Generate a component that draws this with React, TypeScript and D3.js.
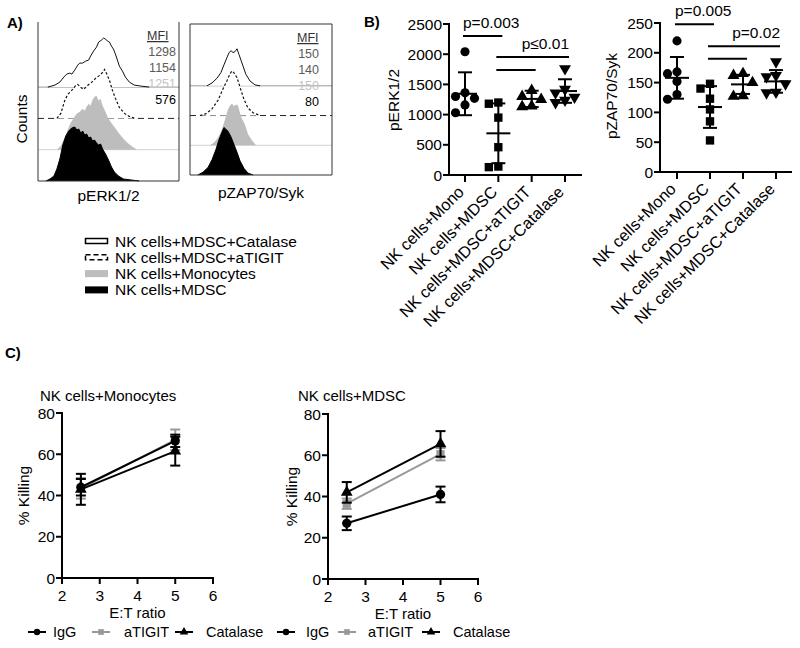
import React from "react";
import * as d3 from "d3";

const FONT = "'Liberation Sans', Arial, Helvetica, sans-serif";

// ---------------- Panel A: histogram overlays ----------------
// [channel (0-100), counts]
const perkCatalase: number[][] = [[7,0],[12,4],[15.5,10],[18.3,20],[20.4,26],[22.5,28],[24,26],[26,34],[28.2,44],[29.6,48],[31.7,48],[33.8,52],[35.9,54],[37.3,62],[39.4,72],[41.5,80],[43,90],[45,94],[46.5,98],[47.9,96],[49.3,92],[50.7,90],[52.1,82],[53.5,76],[54.9,66],[56.3,54],[57.7,42],[59.9,32],[62,20],[64.8,10],[68.3,4],[73,2],[79,0]];
const perkATIGIT: number[][] = [[13.4,0],[16.2,10],[19,36],[21.1,48],[23.9,56],[26.8,66],[28.2,68],[30.3,62],[32.4,58],[35.2,66],[38,72],[40.8,80],[43.7,86],[45.8,92],[47.2,98],[48.6,90],[50.7,76],[52.8,56],[54.9,40],[57.7,22],[61.3,10],[64.8,4],[69,0]];
const perkMono: number[][] = [[13.4,0],[16.2,8],[19,24],[21.1,40],[23.2,54],[25.4,64],[27.5,72],[29.6,76],[31.7,82],[33.1,78],[34.5,86],[35.9,92],[37.3,88],[38.7,100],[40.1,106],[41.5,108],[43,98],[44.4,102],[45.8,88],[47.2,80],[49.3,66],[51.4,56],[53.5,48],[55.6,40],[57.7,32],[60.6,22],[63.4,14],[66.9,6],[70.4,0]];
const perkMDSC: number[][] = [[5.6,0],[8.5,4],[11.3,10],[13.4,24],[15.5,44],[17.6,72],[19.7,90],[21.8,100],[23.9,106],[26.1,108],[27.5,102],[28.9,104],[30.3,96],[31.7,100],[33.1,92],[34.5,94],[35.9,86],[37.3,88],[38.7,80],[40.1,82],[41.5,76],[43,72],[44.4,74],[45.8,64],[47.9,54],[50,42],[52.1,28],[54.2,18],[57,10],[60.6,4],[66.2,2],[71.8,0]];

const zapCatalase: number[][] = [[12,0],[15.5,6],[19,16],[21.8,28],[23.9,44],[26.1,60],[27.5,70],[28.9,74],[30.3,70],[31.7,72],[33.1,78],[34.5,66],[35.9,54],[37.3,42],[39.4,24],[42.3,10],[45.8,2],[49.3,0]];
const zapATIGIT: number[][] = [[7,0],[11.3,4],[15.5,14],[19.7,32],[23.2,56],[26.1,74],[28.2,88],[29.6,94],[31,90],[33.1,80],[35.2,60],[38,34],[40.8,16],[44.4,6],[49.3,0]];
const zapMono: number[][] = [[14.1,0],[16.9,6],[19.7,16],[22.5,34],[24.6,54],[26.8,76],[28.2,84],[29.6,88],[31,82],[32.4,86],[33.8,84],[35.2,68],[36.6,56],[38.7,44],[40.8,24],[43.7,10],[46.5,0]];
const zapMDSC: number[][] = [[5.6,0],[9.2,6],[12.7,16],[15.5,32],[18.3,54],[20.4,74],[22.5,90],[23.9,100],[25.4,96],[26.8,92],[28.9,80],[31,64],[33.1,48],[35.2,30],[38,14],[40.8,4],[44.4,0]];

const layerNames = ["NK cells+MDSC+Catalase", "NK cells+MDSC+aTIGIT", "NK cells+Monocytes", "NK cells+MDSC"];
const perkMFI = ["1298", "1154", "1251", "576"];
const zapMFI = ["150", "140", "150", "80"];

// ---------------- Panel B: scatter ----------------
const bCategories = ["NK cells+Mono", "NK cells+MDSC", "NK cells+MDSC+aTIGIT", "NK cells+MDSC+Catalase"];
const perkValues = [
  [2040, 1360, 1300, 1270, 1160, 1030],
  [1200, 1180, 950, 460, 140, 130],
  [1400, 1300, 1250, 1140, 1130],
  [1760, 1420, 1360, 1290, 1240, 1200],
];
const perkMeans = [1345, 690, 1260, 1390];
const perkSDs = [355, 495, 135, 195];
const zapValues = [
  [220, 168, 165, 152, 130, 122],
  [148, 140, 123, 105, 85, 53],
  [165, 162, 150, 128, 127],
  [185, 162, 160, 148, 134, 133],
];
const zapMeans = [158, 109, 147, 152];
const zapSDs = [35, 35, 16, 19];
const perkSig = [
  { a: 0, b: 1, y: 2300, label: "p=0.003", anchor: "start" },
  { a: 1, b: 3, y: 1955, label: "p≤0.01", anchor: "end" },
  { a: 1, b: 2, y: 1740, label: "", anchor: "start" },
];
const zapSig = [
  { a: 0, b: 1, y: 248, label: "p=0.005", anchor: "start" },
  { a: 1, b: 3, y: 211, label: "p=0.02", anchor: "end" },
  { a: 1, b: 2, y: 190, label: "", anchor: "start" },
];

// ---------------- Panel C: killing ----------------
const etRatios = [2.5, 5];
const cSeriesNames = ["IgG", "aTIGIT", "Catalase"];
const monoIgG = [44, 66.5];
const monoIgGErr = [4, 3];
const monoATIGIT = [43.5, 67];
const monoATIGITErr = [5, 5];
const monoCatalase = [43, 61.5];
const monoCatalaseErr = [7.5, 7];
const mdscIgG = [27, 41];
const mdscIgGErr = [3.3, 3.8];
const mdscATIGIT = [36.5, 60.5];
const mdscATIGITErr = [2.5, 3];
const mdscCatalase = [42, 65.5];
const mdscCatalaseErr = [5, 6.2];
const cXTicks = [2, 3, 4, 5, 6];
const cYTicks = [0, 20, 40, 60, 80];

const shapeOf: Record<string, d3.SymbolType> = {
  circle: d3.symbolCircle,
  square: d3.symbolSquare,
  triangle: d3.symbolTriangle,
  down: d3.symbolTriangle,
};
function Marker({ x, y, shape, size, fill }: any) {
  const p = d3.symbol().type(shapeOf[shape]).size(size)();
  const rot = shape === "down" ? " rotate(180)" : "";
  return <path d={p || ""} transform={`translate(${x},${y})${rot}`} fill={fill} />;
}

function HistBox({ x0, x1, y0, y1, layers, mfi, mfiX, valX, label, fullBox }: any) {
  const x = d3.scaleLinear().domain([0, 100]).range([x0, x1]);
  const y = d3.scaleLinear().domain([0, 318]).range([y1, y0]);
  const offset = 62.6;
  const styles = [
    { fill: "#fff", stroke: "#111", dash: undefined, base: "#9a9a9a", baseDash: undefined, sw: 1 },
    { fill: "#fff", stroke: "#111", dash: "2.5,2", base: "#222", baseDash: "6,4", sw: 1.2 },
    { fill: "#bdbdbd", stroke: "none", dash: undefined, base: "#d2d2d2", baseDash: undefined, sw: 0 },
    { fill: "#000", stroke: "#000", dash: undefined, base: "#000", baseDash: undefined, sw: 1 },
  ];
  const mfiColors = ["#5a5a5a", "#5a5a5a", "#c4c4c4", "#000"];
  return (
    <g>
      {layers.map((data: number[][], i: number) => {
        const off = offset * (3 - i);
        const st = styles[i];
        const area = d3.area<number[]>().x((d) => x(d[0])).y0(y(off)).y1((d) => y(off + d[1]));
        const line = d3.line<number[]>().x((d) => x(d[0])).y((d) => y(off + d[1]));
        return (
          <g key={i}>
            {i < 3 && (
              <line x1={x0} x2={x1} y1={y(off)} y2={y(off)} stroke={st.base} strokeWidth={1} strokeDasharray={st.baseDash} />
            )}
            <path d={area(data) || ""} fill={st.fill} />
            {st.sw > 0 && <path d={line(data) || ""} fill="none" stroke={st.stroke} strokeWidth={st.sw} strokeDasharray={st.dash} />}
          </g>
        );
      })}
      <line x1={x0} x2={x0} y1={y0} y2={y1} stroke="#333" strokeWidth={1} />
      <line x1={x0} x2={x1} y1={y1} y2={y1} stroke="#333" strokeWidth={1} />
      <line x1={x1} x2={x1} y1={y0} y2={y1} stroke="#333" strokeWidth={1} />
      {fullBox && <line x1={x0} x2={x1} y1={y0} y2={y0} stroke="#333" strokeWidth={1} />}
      <text x={mfiX} y={y0 + 18} fontSize={12.5} fill="#333" fontFamily={FONT} textDecoration="underline">MFI</text>
      {mfi.map((m: string, i: number) => (
        <text key={i} x={valX} y={y0 + 34 + i * 16} fontSize={12.5} textAnchor="end" fill={mfiColors[i]} fontFamily={FONT}>{m}</text>
      ))}
      <text x={(x0 + x1) / 2} y={label.y} fontSize={15.5} textAnchor="middle" fontFamily={FONT}>{label.text}</text>
    </g>
  );
}

function dodge(vals: number[], ys: (v: number) => number, step: number) {
  const placed: { x: number; y: number }[] = [];
  const order = [0, -1, 1, -2, 2, -3, 3];
  return vals.map((v) => {
    const py = ys(v);
    for (const o of order) {
      const px = o * step;
      if (placed.every((p) => Math.hypot(p.x - px, p.y - py) >= step)) {
        placed.push({ x: px, y: py });
        return { x: px, y: py };
      }
    }
    placed.push({ x: 0, y: py });
    return { x: 0, y: py };
  });
}

function ScatterPanel({ axisX, xEnd, yBottom, yTop, yMax, yStep, xRange, values, means, sds, sigs, ylabel, ylabelX, ylabelY }: any) {
  const y = d3.scaleLinear().domain([0, yMax]).range([yBottom, yTop]);
  const x = d3.scalePoint<string>().domain(bCategories).range(xRange);
  const ticks = d3.range(0, yMax + 1, yStep);
  const shapes = ["circle", "square", "triangle", "down"];
  return (
    <g fontFamily={FONT}>
      <line x1={axisX} x2={axisX} y1={yTop - 1} y2={yBottom + 1} stroke="#000" strokeWidth={2} />
      <line x1={axisX} x2={xEnd} y1={yBottom} y2={yBottom} stroke="#000" strokeWidth={2} />
      {ticks.map((t: number) => (
        <g key={t}>
          <line x1={axisX - 6} x2={axisX} y1={y(t)} y2={y(t)} stroke="#000" strokeWidth={2} />
          <text x={axisX - 7} y={y(t) + 5.5} fontSize={15.5} textAnchor="end">{t}</text>
        </g>
      ))}
      <text transform={`translate(${ylabelX},${ylabelY}) rotate(-90)`} fontSize={15.5} textAnchor="middle">{ylabel}</text>
      {bCategories.map((c, i) => {
        const cx = x(c) as number;
        const pts = dodge(values[i], y, 9.5);
        return (
          <g key={c}>
            <line x1={cx} x2={cx} y1={yBottom} y2={yBottom + 7} stroke="#000" strokeWidth={2} />
            <text transform={`translate(${cx},${yBottom + 18}) rotate(-45)`} fontSize={16.3} textAnchor="end">{c}</text>
            {pts.map((p, j) => (
              <Marker key={j} x={cx + p.x} y={p.y} shape={shapes[i]} size={i === 0 ? 66 : i === 1 ? 70 : 62} fill="#000" />
            ))}
            <line x1={cx} x2={cx} y1={y(means[i] + sds[i])} y2={y(Math.max(0, means[i] - sds[i]))} stroke="#000" strokeWidth={2} />
            <line x1={cx - 7} x2={cx + 7} y1={y(means[i] + sds[i])} y2={y(means[i] + sds[i])} stroke="#000" strokeWidth={2} />
            <line x1={cx - 7} x2={cx + 7} y1={y(means[i] - sds[i])} y2={y(means[i] - sds[i])} stroke="#000" strokeWidth={2} />
            <line x1={cx - 12} x2={cx + 12} y1={y(means[i])} y2={y(means[i])} stroke="#000" strokeWidth={2} />
          </g>
        );
      })}
      {sigs.map((s: any, i: number) => {
        const xa = (x(bCategories[s.a]) as number) - 2;
        const xb = (x(bCategories[s.b]) as number) + 4;
        return (
          <g key={i}>
            <line x1={xa} x2={xb} y1={y(s.y)} y2={y(s.y)} stroke="#000" strokeWidth={2} />
            {s.label && (
              <text x={s.anchor === "start" ? xa : xb} y={y(s.y) - 8} fontSize={15.5} textAnchor={s.anchor}>{s.label}</text>
            )}
          </g>
        );
      })}
    </g>
  );
}

function KillPanel({ x0, x1, y0, y1, title, titleX, series, ylabelX }: any) {
  const x = d3.scaleLinear().domain([2, 6]).range([x0, x1]);
  const y = d3.scaleLinear().domain([0, 80]).range([y1, y0]);
  const line = d3.line<number>().x((_, i) => x(etRatios[i])).y((d) => y(d));
  return (
    <g fontFamily={FONT}>
      <text x={titleX} y={401} fontSize={15} >{title}</text>
      <line x1={x0} x2={x0} y1={y0 - 1} y2={y1 + 1} stroke="#000" strokeWidth={2} />
      <line x1={x0} x2={x1 + 1} y1={y1} y2={y1} stroke="#000" strokeWidth={2} />
      {cYTicks.map((t) => (
        <g key={t}>
          <line x1={x0 - 6} x2={x0} y1={y(t)} y2={y(t)} stroke="#000" strokeWidth={2} />
          <text x={x0 - 7} y={y(t) + 5.5} fontSize={15.5} textAnchor="end">{t}</text>
        </g>
      ))}
      {cXTicks.map((t) => (
        <g key={t}>
          <line x1={x(t)} x2={x(t)} y1={y1} y2={y1 + 6} stroke="#000" strokeWidth={2} />
          <text x={x(t)} y={y1 + 23} fontSize={15.5} textAnchor="middle">{t}</text>
        </g>
      ))}
      <text x={(x0 + x1) / 2} y={y1 + 40} fontSize={15} textAnchor="middle">E:T ratio</text>
      <text transform={`translate(${ylabelX},${(y0 + y1) / 2}) rotate(-90)`} fontSize={15.5} textAnchor="middle">% Killing</text>
      {series.map((s: any, k: number) => (
        <g key={k}>
          <path d={line(s.values) || ""} fill="none" stroke={s.color} strokeWidth={2} />
          {s.values.map((v: number, i: number) => {
            const cx = x(etRatios[i]);
            return (
              <g key={i}>
                <line x1={cx} x2={cx} y1={y(v + s.err[i])} y2={y(v - s.err[i])} stroke={s.color} strokeWidth={2} />
                <line x1={cx - 5} x2={cx + 5} y1={y(v + s.err[i])} y2={y(v + s.err[i])} stroke={s.color} strokeWidth={2} />
                <line x1={cx - 5} x2={cx + 5} y1={y(v - s.err[i])} y2={y(v - s.err[i])} stroke={s.color} strokeWidth={2} />
                <Marker x={cx} y={y(v)} shape={s.shape} size={s.shape === "triangle" ? 60 : 68} fill={s.color} />
              </g>
            );
          })}
        </g>
      ))}
    </g>
  );
}

function CLegend({ starts, textOffsets }: any) {
  const colors = ["#000", "#999", "#000"];
  const shapes = ["circle", "square", "triangle"];
  return (
    <g fontFamily={FONT}>
      {cSeriesNames.map((n, i) => (
        <g key={n}>
          <line x1={starts[i]} x2={starts[i] + 18} y1={632} y2={632} stroke={colors[i]} strokeWidth={2} />
          <Marker x={starts[i] + 9} y={632} shape={shapes[i]} size={32} fill={colors[i]} />
          <text x={starts[i] + textOffsets[i]} y={637} fontSize={14.5}>{n}</text>
        </g>
      ))}
    </g>
  );
}

export default function App() {
  const monoSeries = [
    { values: monoATIGIT, err: monoATIGITErr, color: "#999", shape: "square" },
    { values: monoIgG, err: monoIgGErr, color: "#000", shape: "circle" },
    { values: monoCatalase, err: monoCatalaseErr, color: "#000", shape: "triangle" },
  ];
  const mdscSeries = [
    { values: mdscATIGIT, err: mdscATIGITErr, color: "#999", shape: "square" },
    { values: mdscIgG, err: mdscIgGErr, color: "#000", shape: "circle" },
    { values: mdscCatalase, err: mdscCatalaseErr, color: "#000", shape: "triangle" },
  ];
  return (
    <svg width={800} height={648} style={{ position: "absolute", left: 0, top: 0, background: "#fff" }} fontFamily={FONT}>
      <rect width={800} height={648} fill="#fff" />
      {/* Panel A */}
      <text x={7} y={28} fontSize={15} fontWeight="bold">A)</text>
      <text transform="translate(27,119) rotate(-90)" fontSize={15.5} textAnchor="middle">Counts</text>
      <HistBox x0={38} x1={179} y0={22} y1={181} layers={[perkCatalase, perkATIGIT, perkMono, perkMDSC]}
        mfi={perkMFI} mfiX={147} valX={176} label={{ text: "pERK1/2", y: 201 }} fullBox={false} />
      <HistBox x0={190} x1={332} y0={24} y1={175} layers={[zapCatalase, zapATIGIT, zapMono, zapMDSC]}
        mfi={zapMFI} mfiX={297} valX={319} label={{ text: "pZAP70/Syk", y: 198 }} fullBox={true} />
      {/* Legend A */}
      {layerNames.map((n, i) => {
        const cy = 241 + i * 16.3;
        return (
          <g key={n}>
            {i === 0 && <rect x={85.5} y={cy - 2.5} width={22} height={5} fill="#fff" stroke="#000" strokeWidth={1.5} />}
            {i === 1 && <rect x={85.5} y={cy - 2.5} width={22} height={5} fill="#fff" stroke="#000" strokeWidth={1.5} strokeDasharray="5,3" />}
            {i === 2 && <rect x={85} y={cy - 3.5} width={23} height={7} fill="#bdbdbd" />}
            {i === 3 && <rect x={85} y={cy - 3.5} width={23} height={7} fill="#000" />}
            <text x={115} y={cy + 5.5} fontSize={15.5}>{n}</text>
          </g>
        );
      })}
      {/* Panel B */}
      <text x={364} y={27} fontSize={15} fontWeight="bold">B)</text>
      <ScatterPanel axisX={449} xEnd={582} yBottom={175} yTop={24} yMax={2500} yStep={500} xRange={[465, 565]}
        values={perkValues} means={perkMeans} sds={perkSDs} sigs={perkSig} ylabel="pERK1/2" ylabelX={399} ylabelY={100} />
      <ScatterPanel axisX={660} xEnd={792} yBottom={172} yTop={23} yMax={250} yStep={50} xRange={[677, 776]}
        values={zapValues} means={zapMeans} sds={zapSDs} sigs={zapSig} ylabel="pZAP70/Syk" ylabelX={617} ylabelY={96} />
      {/* Panel C */}
      <text x={5} y={358} fontSize={15} fontWeight="bold">C)</text>
      <KillPanel x0={62} x1={213} y0={413} y1={578} title="NK cells+Monocytes" titleX={40} series={monoSeries} ylabelX={29} />
      <KillPanel x0={328} x1={478} y0={414} y1={579} title="NK cells+MDSC" titleX={298} series={mdscSeries} ylabelX={297} />
      <CLegend starts={[28, 92, 175]} textOffsets={[25, 32, 31]} />
      <CLegend starts={[277, 338, 422]} textOffsets={[29, 30, 31]} />
    </svg>
  );
}
